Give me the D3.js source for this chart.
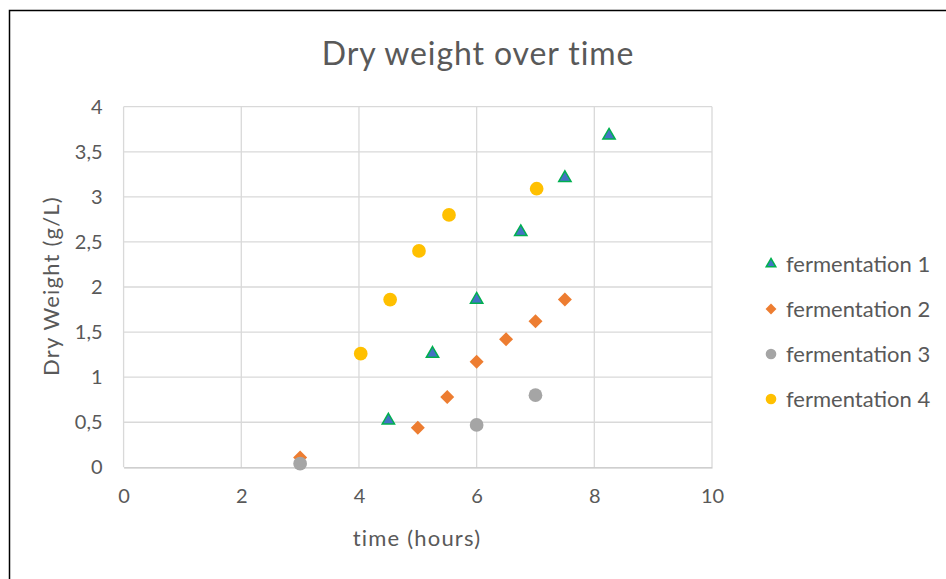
<!DOCTYPE html>
<html>
<head>
<meta charset="utf-8">
<script src="https://cdn.jsdelivr.net/npm/d3@7"></script>
<style>
  html, body { margin: 0; padding: 0; background: #fff; }
  svg { display: block; }
  text { font-family: Lato, "Open Sans", sans-serif; }
</style>
</head>
<body>
<svg id="chart" width="946" height="579"></svg>
<script>
// ---- data ----
const title = "Dry weight over time";
const xLabel = "time (hours)";
const yLabel = "Dry Weight (g/L)";
const xTicks = [0, 2, 4, 6, 8, 10];
const yTicks = [0, 0.5, 1, 1.5, 2, 2.5, 3, 3.5, 4];
const seriesNames = ["fermentation 1", "fermentation 2", "fermentation 3", "fermentation 4"];

const f1x = [4.5, 5.25, 6, 6.75, 7.5, 8.25];
const f1y = [0.52, 1.26, 1.86, 2.61, 3.21, 3.68];
const f2x = [3, 5, 5.5, 6, 6.5, 7, 7.5];
const f2y = [0.11, 0.44, 0.78, 1.17, 1.42, 1.62, 1.86];
const f3x = [3, 6, 7];
const f3y = [0.04, 0.47, 0.8];
const f4x = [4.03, 4.53, 5.02, 5.53, 7.02];
const f4y = [1.26, 1.86, 2.4, 2.8, 3.09];

// ---- styles ----
const styles = [
  { shape: d3.symbolTriangle, size: 66, fill: "#4472C4", stroke: "#00B050", sw: 1.5, rot: 0 },
  { shape: d3.symbolSquare, size: 98, fill: "#ED7D31", stroke: "none", sw: 0, rot: 45 },
  { shape: d3.symbolCircle, size: 148, fill: "#A5A5A5", stroke: "none", sw: 0, rot: 0 },
  { shape: d3.symbolCircle, size: 148, fill: "#FFC000", stroke: "none", sw: 0, rot: 0 }
];
const series = [
  { name: seriesNames[0], xs: f1x, ys: f1y },
  { name: seriesNames[1], xs: f2x, ys: f2y },
  { name: seriesNames[2], xs: f3x, ys: f3y },
  { name: seriesNames[3], xs: f4x, ys: f4y }
];

const svg = d3.select("#chart");
const textColor = "#595959";

// outer frame
svg.append("rect").attr("x", 9.5).attr("y", 10.5).attr("width", 1000).attr("height", 1000)
  .attr("fill", "#fff").attr("stroke", "#000").attr("stroke-width", 1.5);

const plot = { left: 123.6, right: 712, top: 106.7, bottom: 467.3 };
const x = d3.scaleLinear().domain([0, 10]).range([plot.left, plot.right]);
const y = d3.scaleLinear().domain([0, 4]).range([plot.bottom, plot.top]);

// gridlines
const g = svg.append("g");
g.selectAll("line.h").data(yTicks.filter(d => d > 0)).join("line")
  .attr("x1", plot.left).attr("x2", plot.right)
  .attr("y1", d => y(d)).attr("y2", d => y(d))
  .attr("stroke", "#d9d9d9").attr("stroke-width", 1.3);
g.selectAll("line.v").data(xTicks).join("line")
  .attr("y1", plot.top).attr("y2", plot.bottom)
  .attr("x1", d => x(d)).attr("x2", d => x(d))
  .attr("stroke", "#d9d9d9").attr("stroke-width", 1.3);

// x axis
const xAxis = svg.append("g").attr("transform", `translate(0,${plot.bottom})`)
  .call(d3.axisBottom(x).tickValues(xTicks).tickSize(0).tickPadding(22).tickFormat(d => String(d)));
xAxis.select(".domain").attr("stroke", "#bfbfbf").attr("stroke-width", 1.3);
xAxis.selectAll("text").attr("fill", textColor).style("font-size", "20px").style("font-family", "Lato, sans-serif");

// y axis
const yAxis = svg.append("g").attr("transform", `translate(${plot.left},0)`)
  .call(d3.axisLeft(y).tickValues(yTicks).tickSize(0).tickPadding(21)
    .tickFormat(d => String(d).replace(".", ",")));
yAxis.select(".domain").remove();
yAxis.selectAll("text").attr("fill", textColor).style("font-size", "20px").style("font-family", "Lato, sans-serif");

// title
svg.append("text").attr("x", 478).attr("y", 65).attr("text-anchor", "middle")
  .attr("fill", textColor).style("font-size", "32px").style("letter-spacing", "0.9px").text(title);

// axis titles
svg.append("text").attr("x", 417).attr("y", 546).attr("text-anchor", "middle")
  .attr("fill", textColor).style("font-size", "22px").style("letter-spacing", "1.2px").text(xLabel);
svg.append("text").attr("transform", "translate(59,286) rotate(-90)").attr("text-anchor", "middle")
  .attr("fill", textColor).style("font-size", "22px").style("letter-spacing", "1.2px").text(yLabel);

// points
series.forEach((s, i) => {
  const st = styles[i];
  const sym = d3.symbol().type(st.shape).size(st.size);
  svg.append("g").selectAll("path").data(s.xs.map((v, k) => [v, s.ys[k]])).join("path")
    .attr("d", sym)
    .attr("transform", d => `translate(${x(d[0])},${y(d[1])}) rotate(${st.rot})`)
    .attr("fill", st.fill).attr("stroke", st.stroke).attr("stroke-width", st.sw);
});

// legend
const legY = [264, 309, 354, 399];
const leg = svg.append("g");
series.forEach((s, i) => {
  const st = styles[i];
  const sym = d3.symbol().type(st.shape).size(st.size * 0.6);
  leg.append("path").attr("d", sym)
    .attr("transform", `translate(771,${legY[i]}) rotate(${st.rot})`)
    .attr("fill", st.fill).attr("stroke", st.stroke).attr("stroke-width", st.sw);
  leg.append("text").attr("x", 786).attr("y", legY[i]).attr("dy", "0.35em")
    .attr("fill", textColor).style("font-size", "22px").text(s.name);
});
</script>
</body>
</html>
